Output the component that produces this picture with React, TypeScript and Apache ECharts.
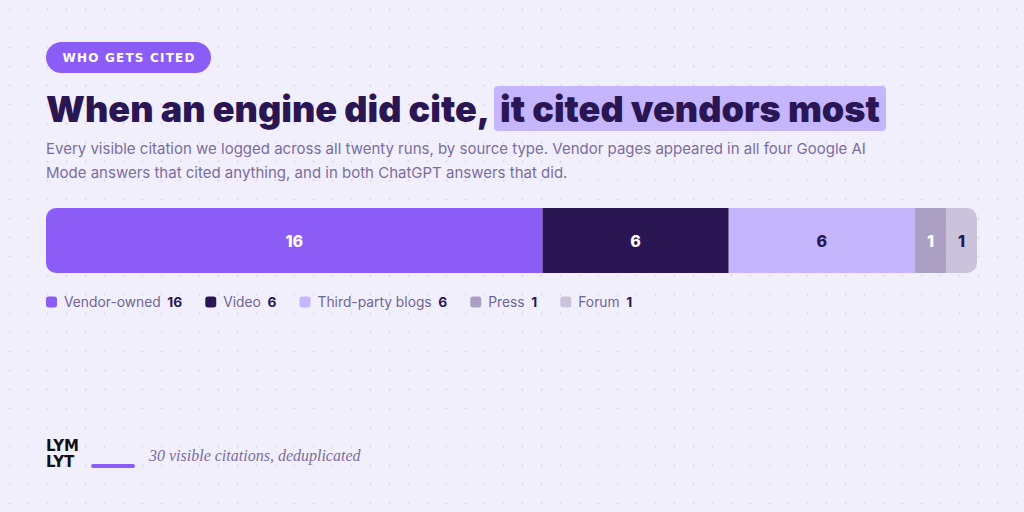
import React, { useEffect, useRef } from "react";
import * as echarts from "echarts";

const categories = ["Vendor-owned", "Video", "Third-party blogs", "Press", "Forum"];
const counts = [16, 6, 6, 1, 1];
const rowLabel = ["Citations"];
const total = 30;

const palette = ["#8b5cf6", "#2b1654", "#c4b5fd", "#ab9fc4", "#cbc3dc"];
const labelColors = ["#ffffff", "#ffffff", "#2b1654", "#ffffff", "#2b1654"];

const badgeText = "WHO GETS CITED";
const titleMain = "When an engine did cite,";
const titleHighlight = "it cited vendors most";
const subtitleLines = [
  "Every visible citation we logged across all twenty runs, by source type. Vendor pages appeared in all four Google AI",
  "Mode answers that cited anything, and in both ChatGPT answers that did.",
];
const logoLines = ["LYM", "LYT"];
const footnote = "30 visible citations, deduplicated";

export default function App() {
  const ref = useRef<HTMLDivElement>(null);
  useEffect(() => {
    if (!ref.current) return;
    const chart = echarts.init(ref.current, null, { renderer: "svg" });
    const last = counts.length - 1;
    const series = categories.map((name, i) => ({
      name,
      type: "bar",
      stack: "all",
      barWidth: 65,
      data: [counts[i]],
      itemStyle: {
        color: palette[i],
        borderRadius: i === 0 ? [10, 0, 0, 10] : i === last ? [0, 10, 10, 0] : 0,
      },
      label: {
        show: true,
        position: "inside",
        color: labelColors[i],
        fontFamily: "Inter",
        fontWeight: 800,
        fontSize: 16,
      },
    }));
    chart.setOption({
      animation: false,
      grid: { left: 46, right: 47, top: 208, height: 65 },
      xAxis: { type: "value", min: 0, max: total, show: false },
      yAxis: { type: "category", data: rowLabel, show: false },
      legend: {
        left: 46,
        top: 295,
        padding: 0,
        icon: "roundRect",
        itemWidth: 11,
        itemHeight: 11,
        itemGap: 23,
        selectedMode: false,
        data: categories.map((name, i) => ({ name, itemStyle: { color: palette[i] } })),
        formatter: (name: string) => {
          const v = counts[categories.indexOf(name)];
          return `{n|${name}}  {v|${v}}`;
        },
        textStyle: {
          padding: [0, 0, 0, 2],
          rich: {
            n: { fontFamily: "Inter", fontSize: 13.8, color: "#6f6592" },
            v: { fontFamily: "Inter", fontSize: 13.8, fontWeight: 700, color: "#2b1654" },
          },
        },
      },
      graphic: [
        {
          type: "rect",
          shape: { x: 46, y: 42, width: 165, height: 31, r: 15.5 },
          style: { fill: "#8b5cf6" },
        },
        {
          type: "text",
          x: 128.5,
          y: 58,
          style: {
            text: badgeText.split("").join("\u200A"),
            fill: "#ffffff",
            font: "700 12px 'DejaVu Sans'",
            align: "center",
            verticalAlign: "middle",
          },
        },
        {
          type: "rect",
          shape: { x: 494, y: 86, width: 392, height: 45, r: 4 },
          style: { fill: "#c4b5fd" },
        },
        {
          type: "text",
          x: 46,
          y: 109,
          style: {
            text: titleMain,
            fill: "#2b1654",
            font: "900 36px Inter",
            verticalAlign: "middle",
          },
        },
        {
          type: "text",
          x: 500,
          y: 109,
          style: {
            text: titleHighlight,
            fill: "#2b1654",
            font: "900 36px Inter",
            verticalAlign: "middle",
          },
        },
        ...subtitleLines.map((t, i) => ({
          type: "text",
          x: 46,
          y: 148 + i * 24,
          style: {
            text: t,
            fill: "#7a6d9c",
            font: "400 15px Inter",
            verticalAlign: "middle",
          },
        })),
        ...logoLines.map((t, i) => ({
          type: "text",
          x: 46,
          y: 446 + i * 16,
          style: {
            text: t,
            fill: "#111111",
            font: "900 15px 'DejaVu Sans'",
            verticalAlign: "middle",
          },
        })),
        {
          type: "rect",
          shape: { x: 91, y: 464, width: 44, height: 4, r: 2 },
          style: { fill: "#8b5cf6" },
        },
        {
          type: "text",
          x: 149,
          y: 455,
          style: {
            text: footnote,
            fill: "#7a6d9c",
            font: "italic 400 16px 'Liberation Serif'",
            verticalAlign: "middle",
          },
        },
      ],
      series,
    });
    return () => chart.dispose();
  }, []);
  return (
    <div
      style={{
        position: "fixed",
        left: 0,
        top: 0,
        width: 1024,
        height: 512,
        backgroundColor: "#f2effd",
        backgroundImage: "radial-gradient(circle, #ddd6f0 0.9px, transparent 1.2px)",
        backgroundSize: "19px 19px",
        backgroundPosition: "0px 0px",
      }}
    >
      <div ref={ref} style={{ width: 1024, height: 512 }} />
    </div>
  );
}
